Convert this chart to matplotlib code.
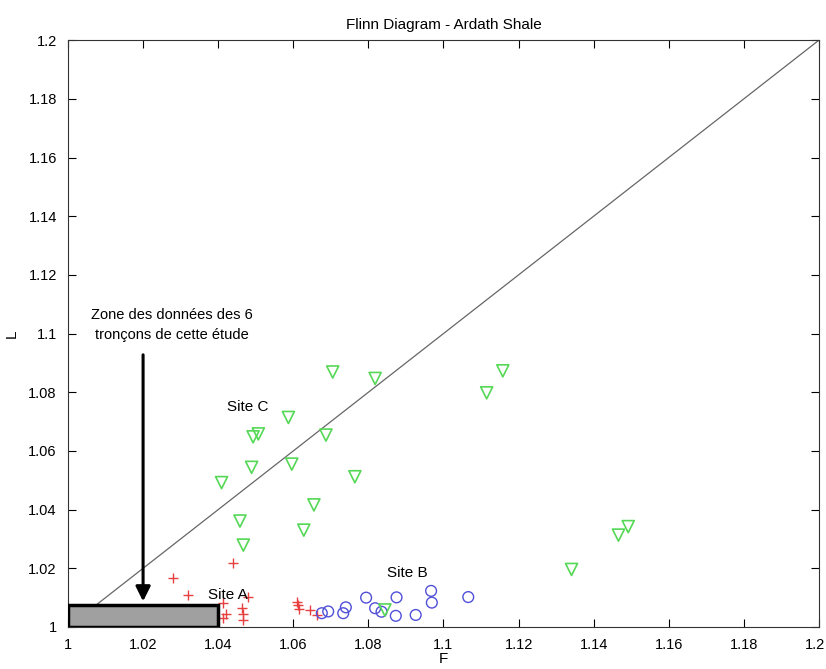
import numpy as np
import matplotlib.pyplot as plt
import matplotlib.transforms as mtransforms

plt.rcParams['font.family'] = ['Liberation Sans', 'DejaVu Sans']

# Site A (red +)
fa = [1.028, 1.032, 1.0439, 1.0479, 1.0412, 1.0463, 1.042, 1.0465, 1.0413, 1.0465,
      1.0609, 1.0613, 1.0615, 1.0644, 1.0662]
la = [1.0167, 1.0109, 1.0219, 1.0102, 1.0082, 1.0065, 1.0044, 1.0044, 1.003, 1.0024,
      1.0086, 1.0075, 1.0061, 1.0058, 1.0041]

# Site B (blue o)
fb = [1.0676, 1.0693, 1.0733, 1.074, 1.0794, 1.0818, 1.0835, 1.0875, 1.0873, 1.0926,
      1.0967, 1.0969, 1.1066]
lb = [1.0047, 1.0053, 1.0047, 1.0067, 1.0100, 1.0064, 1.0052, 1.0101, 1.0038, 1.0041,
      1.0123, 1.0083, 1.0102]

# Site C (green v)
fc = [1.0705, 1.0818, 1.1158, 1.1115, 1.0587, 1.0687, 1.0493, 1.0507, 1.0489, 1.0596,
      1.0764, 1.0409, 1.0655, 1.0458, 1.0628, 1.0467, 1.1341, 1.1466, 1.1492, 1.0844]
lc = [1.0869, 1.0847, 1.0873, 1.0798, 1.0714, 1.0654, 1.0648, 1.0658, 1.0544, 1.0555,
      1.0512, 1.0492, 1.0416, 1.0361, 1.0330, 1.0279, 1.0196, 1.0313, 1.0342, 1.0058]

ticks = np.round(np.arange(1, 1.2001, 0.02), 2)
tick_labels = ['1', '1.02', '1.04', '1.06', '1.08', '1.1', '1.12', '1.14', '1.16', '1.18', '1.2']

fig = plt.figure(figsize=(8.26, 6.69), dpi=100)
ax = fig.add_axes([0.0823, 0.0628, 0.9092, 0.8772])

ax.plot([1, 1.2], [1, 1.2], color='#666666', lw=0.9, zorder=1)

ax.scatter(fa, la, marker='+', s=60, color='#e84040', linewidths=1.0, zorder=3)
ax.scatter(fb, lb, marker='o', s=60, facecolors='none', edgecolors='#5050d8', linewidths=1.0, zorder=3)
ax.scatter(fc, lc, marker='v', s=75, facecolors='none', edgecolors='#55d855', linewidths=1.2, zorder=3)

# zone of this study
rect = plt.Rectangle((1, 1), 0.04, 0.0075, facecolor='#a0a0a0', edgecolor='black', lw=2.5, zorder=4)
ax.add_patch(rect)
ax.annotate('', xy=(1.02, 1.0078), xytext=(1.02, 1.0937),
            arrowprops=dict(arrowstyle='-|>', color='black', lw=2.2, mutation_scale=22), zorder=5)
ax.text(1.0277, 1.103, 'Zone des données des 6\ntronçons de cette étude', ha='center', va='center',
        fontsize=10.5, linespacing=1.5)

ax.text(1.0426, 1.0109, 'Site A', ha='center', va='center', fontsize=11, zorder=6)
ax.text(1.0905, 1.0184, 'Site B', ha='center', va='center', fontsize=11)
ax.text(1.048, 1.075, 'Site C', ha='center', va='center', fontsize=11)

ax.set_xlim(1, 1.2)
ax.set_ylim(1, 1.2)
ax.set_xticks(ticks)
ax.set_xticklabels(tick_labels)
ax.set_yticks(ticks)
ax.set_yticklabels(tick_labels)
ax.tick_params(direction='in', top=True, right=True, labelsize=10.5, length=6, width=0.8, pad=8)
for s in ax.spines.values():
    s.set_linewidth(0.8)
    s.set_color('#333333')

# nudge last x label so it stays inside the figure
last = ax.get_xticklabels()[-1]
last.set_transform(last.get_transform() + mtransforms.ScaledTranslation(-4 / 100, 0, fig.dpi_scale_trans))

ax.set_xlabel('F', fontsize=11, labelpad=0)
ax.set_ylabel('L', fontsize=11, labelpad=7)
ax.set_title('Flinn Diagram - Ardath Shale', fontsize=11, pad=8)

fig.savefig('out.png', dpi=100)
